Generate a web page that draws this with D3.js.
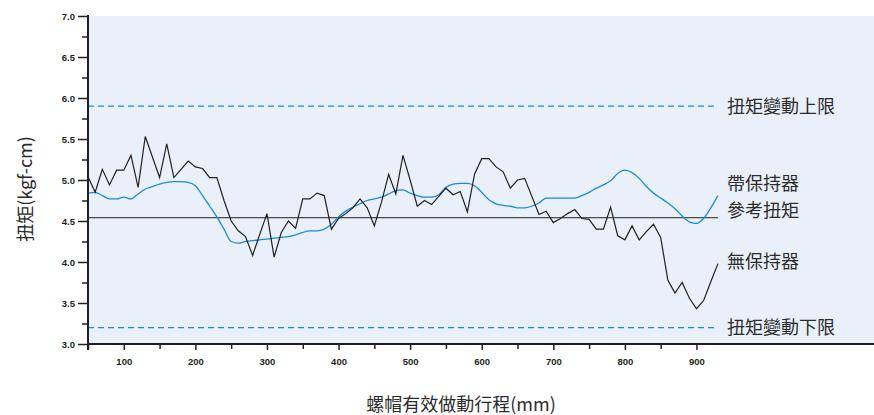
<!DOCTYPE html>
<html><head><meta charset="utf-8">
<script src="https://cdn.jsdelivr.net/npm/d3@7"></script>
<style>
body{margin:0;background:#fff;}
svg{display:block;}
.cjk{font-family:"Noto Sans CJK TC","Noto Sans CJK SC",sans-serif;}
</style></head>
<body><svg id="c" width="874" height="415"></svg>
<script>
// ---- data ----
const positions = d3.range(50, 931, 10);
const withHolder = [4.84,4.85,4.81,4.77,4.77,4.79,4.77,4.83,4.89,4.92,4.95,4.97,4.98,4.98,4.97,4.93,4.81,4.68,4.55,4.40,
 4.25,4.23,4.25,4.26,4.27,4.28,4.29,4.30,4.31,4.33,4.36,4.38,4.38,4.40,4.46,4.55,4.62,4.67,4.71,4.75,
 4.77,4.79,4.83,4.87,4.88,4.84,4.81,4.79,4.79,4.82,4.91,4.95,4.96,4.96,4.93,4.85,4.76,4.71,4.69,4.68,
 4.66,4.66,4.68,4.72,4.78,4.78,4.78,4.78,4.78,4.81,4.85,4.90,4.94,4.99,5.08,5.12,5.09,5.02,4.92,4.84,
 4.78,4.72,4.65,4.56,4.49,4.47,4.53,4.66,4.81];
const withoutHolder = [5.04,4.85,5.13,4.94,5.12,5.12,5.30,4.91,5.53,5.28,5.03,5.44,5.03,5.13,5.23,5.16,5.14,5.03,5.03,4.75,
 4.50,4.38,4.31,4.08,4.34,4.59,4.06,4.36,4.50,4.41,4.77,4.77,4.84,4.81,4.40,4.53,4.59,4.66,4.77,4.66,
 4.44,4.73,5.07,4.83,5.30,5.00,4.68,4.75,4.70,4.80,4.90,4.82,4.86,4.61,5.07,5.26,5.26,5.16,5.10,4.90,
 5.00,5.02,4.80,4.58,4.62,4.48,4.53,4.59,4.64,4.53,4.52,4.40,4.40,4.67,4.32,4.27,4.44,4.27,4.37,4.46,
 4.30,3.78,3.62,3.75,3.56,3.43,3.53,3.76,3.98];
const referenceTorque = 4.54;
const upperLimit = 5.9;
const lowerLimit = 3.2;
const xMajorTicks = [100,200,300,400,500,600,700,800,900];
const xMinorTicks = [50,150,250,350,450,550,650,750,850];
const yMajorTicks = [3.0,3.5,4.0,4.5,5.0,5.5,6.0,6.5,7.0];
const yMinorTicks = [3.25,3.75,4.25,4.75,5.25,5.75,6.25,6.75];
const labels = {upper:"扭矩變動上限", withH:"帶保持器", ref:"參考扭矩", without:"無保持器", lower:"扭矩變動下限"};
const xTitle = "螺帽有效做動行程(mm)";
const yTitle = "扭矩(kgf-cm)";

// ---- layout ----
const L = 88, R = 874, T = 16, B = 344;
const svg = d3.select("#c");
const x = d3.scaleLinear().domain([50, 1148]).range([L, R]);
const y = d3.scaleLinear().domain([3, 7]).range([B, T]);
const dark = "#231f20", blue = "#1c8ad6";
const lineEnd = 930;

svg.append("rect").attr("x", L).attr("y", T).attr("width", R - L).attr("height", B - T).attr("fill", "#eaf0f9");

// limits
[upperLimit, lowerLimit].forEach(v => {
  svg.append("line").attr("x1", x(50)).attr("x2", x(lineEnd)).attr("y1", y(v)).attr("y2", y(v))
    .attr("stroke", blue).attr("stroke-width", 1.2).attr("stroke-dasharray", "6,4");
});
svg.append("line").attr("x1", x(50)).attr("x2", x(lineEnd)).attr("y1", y(referenceTorque)).attr("y2", y(referenceTorque))
  .attr("stroke", dark).attr("stroke-width", 1);

const ln = (vals, curve) => d3.line().x((d, i) => x(positions[i])).y(d => y(d)).curve(curve)(vals);
svg.append("path").attr("d", ln(withHolder, d3.curveMonotoneX)).attr("fill", "none").attr("stroke", blue).attr("stroke-width", 1.3);
svg.append("path").attr("d", ln(withoutHolder, d3.curveLinear)).attr("fill", "none").attr("stroke", dark).attr("stroke-width", 1.2);

// axes
const tickFont = g => g.selectAll("text").attr("font-family", "'Liberation Sans',Arial,sans-serif").attr("font-weight", "bold").attr("font-size", "9.5px").attr("fill", dark);
const xMaj = svg.append("g").attr("transform", `translate(0,${B})`).call(d3.axisBottom(x).tickValues(xMajorTicks).tickSize(6).tickPadding(6).tickSizeOuter(0));
const xMin = svg.append("g").attr("transform", `translate(0,${B})`).call(d3.axisBottom(x).tickValues(xMinorTicks).tickSize(5).tickFormat("").tickSizeOuter(0));
const yMaj = svg.append("g").attr("transform", `translate(${L},0)`).call(d3.axisLeft(y).tickValues(yMajorTicks).tickSize(10).tickPadding(3).tickFormat(d3.format(".1f")).tickSizeOuter(0));
const yMin = svg.append("g").attr("transform", `translate(${L},0)`).call(d3.axisLeft(y).tickValues(yMinorTicks).tickSize(6).tickFormat("").tickSizeOuter(0));
[xMaj, xMin, yMaj, yMin].forEach(g => { g.select(".domain").remove(); g.selectAll("line").attr("stroke", dark).attr("stroke-width", 1.5); tickFont(g); });
xMaj.selectAll("text").attr("dy", "0.9em");
svg.append("line").attr("x1", L).attr("x2", R).attr("y1", B).attr("y2", B).attr("stroke", dark).attr("stroke-width", 2);
svg.append("line").attr("x1", L).attr("x2", L).attr("y1", T - 1).attr("y2", B + 6).attr("stroke", dark).attr("stroke-width", 2);

// labels
const lx = 727;
[[labels.upper, upperLimit], [labels.lower, lowerLimit]].forEach(([t, v]) => {
  svg.append("text").attr("class", "cjk").attr("x", lx).attr("y", y(v)).attr("dy", "0.35em").attr("font-size", "18px").attr("fill", "#2b2b2b").text(t);
});
svg.append("text").attr("class", "cjk").attr("x", lx).attr("y", y(4.95)).attr("dy", "0.35em").attr("font-size", "18px").attr("fill", "#2b2b2b").text(labels.withH);
svg.append("text").attr("class", "cjk").attr("x", lx).attr("y", y(4.63)).attr("dy", "0.35em").attr("font-size", "18px").attr("fill", "#2b2b2b").text(labels.ref);
svg.append("text").attr("class", "cjk").attr("x", lx).attr("y", y(4.0)).attr("dy", "0.35em").attr("font-size", "18px").attr("fill", "#2b2b2b").text(labels.without);

svg.append("text").attr("class", "cjk").attr("x", 461).attr("y", 405).attr("dy", "0.35em").attr("text-anchor", "middle").attr("font-size", "18px").attr("fill", "#2b2b2b").text(xTitle);
svg.append("text").attr("class", "cjk").attr("transform", "translate(26,189) rotate(-90)").attr("dy", "0.35em").attr("text-anchor", "middle").attr("font-size", "18px").attr("fill", "#2b2b2b").text(yTitle);
</script></body></html>
